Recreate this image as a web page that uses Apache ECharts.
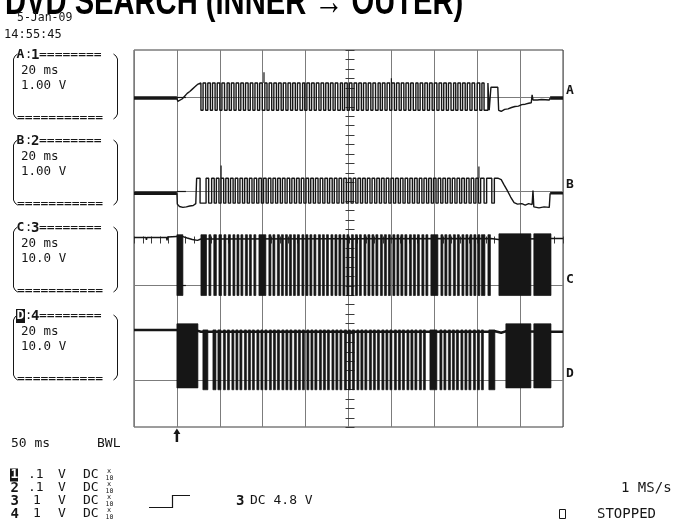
<!DOCTYPE html>
<html>
<head>
<meta charset="utf-8">
<script src="https://cdn.jsdelivr.net/npm/echarts@6/dist/echarts.min.js"></script>
<style>
  html, body { margin: 0; padding: 0; background: #fff; }
  #scope { width: 677px; height: 522px; }
</style>
</head>
<body>
<div id="scope"></div>
<script>
// time in ms (50 ms/div, trigger at t = 0), levels in volts

// --- channel A (1.00 V/div)
const aPre = [[-50, -0.02], [0, -0.02]];
const aRamp = [[0, -0.02], [1, -0.09], [3, -0.1], [6, -0.04], [9, 0.02], [12, 0.08], [15, 0.12], [18, 0.17], [21, 0.22], [24, 0.27], [28, 0.3]];
const aHigh = 0.3;
const aLow = -0.28;
// toggle times, first edge goes low
const aEdges = [28, 30.5, 33.5, 36, 39, 41.5, 44.5, 47, 50, 52.5, 55.5, 58.5, 61, 63.5, 66.5, 69, 72, 74.5, 77.5, 80,
  83, 85.5, 88.5, 91, 94, 96.5, 99.5, 102.5, 105, 107.5, 110.5, 113, 116, 118.5, 121.5, 124, 127, 129.5, 132.5, 135,
  138, 140.5, 143.5, 146.5, 149, 151.5, 154.5, 157, 160, 162.5, 165.5, 168, 171, 173.5, 176.5, 179, 182, 184.5, 187.5, 190.5,
  193, 195.5, 198.5, 201, 204, 206.5, 209.5, 212, 215, 217.5, 220.5, 223, 226, 228.5, 231.5, 234.5, 237, 239.5, 242.5, 245,
  248, 250.5, 253.5, 256, 259, 261.5, 264.5, 267, 270, 272.5, 275.5, 278.5, 281, 283.5, 286.5, 289, 292, 294.5, 297.5, 300,
  303, 305.5, 308.5, 311, 314, 316.5, 319.5, 322.5, 325, 327.5, 330.5, 333, 336, 338.5, 341.5, 344, 347, 350, 353, 355.5,
  358, 362.5, 364];
const aTail = [[366, -0.28], [366, 0.21], [374, 0.21], [375, -0.28], [378, -0.3], [382, -0.26], [386, -0.25], [390, -0.22],
  [394, -0.2], [398, -0.19], [402, -0.16], [406, -0.15], [410, -0.13], [413, -0.12], [414, 0.05], [415, -0.06], [420, -0.06],
  [425, -0.05], [434, -0.06], [435, -0.02]];
const aEnd = [[435, -0.02], [450, -0.02]];
const aSpikes = [[101.5, 0.3, 0.53], [250, 0.3, 0.4]];

// --- channel B (1.00 V/div)
const bPre = [[-50, -0.04], [0, -0.04]];
const bDrop = [[0, -0.04], [0.5, -0.27], [3, -0.32], [7, -0.34], [11, -0.33], [15, -0.31], [19, -0.3], [22, -0.26], [23, -0.26]];
const bHigh = 0.28;
const bLow = -0.25;
// toggle times, first edge goes high
const bEdges = [23, 27, 34, 37, 40.5, 43.5, 46, 49, 51.5, 54.5, 57, 60, 62.5, 65.5, 68, 71, 73.5, 76.5, 79, 82,
  84.5, 87.5, 90, 93, 95.5, 98.5, 101, 104, 106.5, 109.5, 112, 115, 117.5, 120.5, 123, 126, 128.5, 131.5, 134, 137,
  139.5, 142.5, 145, 148, 150.5, 153.5, 156, 159, 161.5, 164.5, 167, 170, 172.5, 175.5, 178, 181, 183.5, 186.5, 189, 192,
  194.5, 197.5, 200, 203, 205.5, 208.5, 211, 214, 216.5, 219.5, 222, 225, 227.5, 230.5, 233, 236, 238.5, 241.5, 244, 247,
  249.5, 252.5, 255, 258, 260.5, 263.5, 266, 269, 271.5, 274.5, 277, 280, 282.5, 285.5, 288, 291, 293.5, 296.5, 299, 302,
  304.5, 307.5, 310, 313, 315.5, 318.5, 321, 324, 326.5, 329.5, 332, 335, 337.5, 340.5, 343, 346, 348.5, 351.5, 354, 358,
  361, 367, 370];
const bTail = [[374, 0.28], [378, 0.25], [381, 0.15], [385, 0.02], [389, -0.12], [393, -0.24], [397, -0.27], [402, -0.26],
  [406, -0.29], [410, -0.26], [414, -0.28], [415, 0.02], [416, -0.33], [422, -0.35], [428, -0.33], [434, -0.34], [435, -0.04]];
const bEnd = [[435, -0.04], [450, -0.04]];
const bSpikes = [[51.5, 0.28, 0.55], [352, 0.28, 0.53]];

// --- channel C (10.0 V/div)
const cBase = [[-50, 10.2], [-45, 10.2], [-44.5, 9.8], [-44, 10.2], [-36, 10.2], [-35.5, 9.7], [-35, 10.2], [-24, 10.2],
  [-23.5, 9.8], [-23, 10.2], [-12, 10.2], [-11.5, 9.6], [-11, 10.3], [0, 10.4], [7, 10.4], [12, 10.1], [18, 9.8], [24, 9.6],
  [28, 9.9], [366, 10.0], [375, 9.8], [436, 10.0], [450, 10.0]];
const cBarTop = 10.8;
const cBarLow = -2.1;
const cBars = [[0, 7], [28, 34.5], [37.3, 39.6], [43, 46], [49, 52], [54.8, 57.1], [60, 62.4], [65.3, 67.6], [70, 72.3],
  [74.6, 76.9], [79.8, 82.2], [84.5, 86.8], [89.7, 92], [95.6, 103.7], [107.2, 109.6], [111.9, 114.2], [117.1, 119.5],
  [121.8, 124.1], [126.5, 128.8], [131.1, 133.5], [135.8, 138.1], [140.4, 142.8], [145.7, 148], [150.3, 152.7], [155, 157.3],
  [159.7, 162], [164.9, 167.3], [169.6, 171.9], [174.3, 176.6], [179.5, 181.8], [184.2, 186.5], [188.8, 191.1], [193.5, 195.8],
  [198.1, 200.5], [203.4, 205.7], [208, 210.4], [212.7, 215], [218, 220.3], [222.6, 225], [227.3, 229.6], [231.9, 234.3],
  [237.2, 239.5], [241.8, 244.2], [246.5, 248.8], [251.7, 254.1], [256.4, 258.7], [261, 263.4], [265.7, 268.1], [271, 273.3],
  [275.6, 278], [280.3, 282.6], [285.5, 287.9], [290.2, 292.5], [296, 304.2], [307.7, 310], [312.3, 314.7], [317, 319.3],
  [322.2, 324.6], [326.9, 329.2], [332.2, 334.5], [336.8, 339.2], [341.5, 343.8], [346.1, 348.5], [350.8, 353.1], [354.9, 359],
  [362.5, 365.4]];
const cBlocks = [[375.3, 412.6, 11.0, -2.1], [416, 436, 11.0, -2.1]];

// --- channel D (10.0 V/div)
const dBase = [[-50, 10.6], [0, 10.6], [24.5, 10.4], [28, 10.2], [363, 10.2], [371, 10.3], [378, 10.0], [383, 10.3], [436, 10.2], [450, 10.2]];
const dBarTop = 10.6;
const dBarLow = -2.1;
const dBars = [[30.3, 36.1], [42, 45.5], [47.8, 51.3], [54.2, 56.5], [58.9, 61.2], [64.1, 66.4], [68.8, 71.1], [73.4, 75.8],
  [78.7, 81], [83.3, 85.7], [88, 90.3], [93.2, 95.6], [97.9, 100.2], [102.6, 104.9], [107.8, 110.1], [112.5, 114.8],
  [117.1, 119.5], [122.4, 124.7], [127, 129.4], [131.7, 134], [136.9, 139.3], [141.6, 143.9], [146.3, 148.6], [151.5, 153.8],
  [156.2, 158.5], [160.8, 163.2], [166.1, 168.4], [170.7, 173.1], [175.4, 177.7], [180.7, 183], [185.3, 187.6], [190, 192.3],
  [195.2, 197.6], [199.9, 202.2], [204.5, 206.9], [209.8, 212.1], [214.4, 216.8], [219.1, 221.4], [224.3, 226.7], [229, 231.3],
  [233.7, 236], [238.9, 241.3], [243.6, 245.9], [248.3, 250.6], [253.5, 255.8], [258.2, 260.5], [262.8, 265.2], [268.1, 270.4],
  [272.7, 275.1], [277.4, 279.7], [282.6, 285], [287.3, 289.6], [294.9, 303], [306.5, 308.9], [311.2, 313.5], [316.4, 318.8],
  [321.1, 323.4], [325.7, 328.1], [331, 333.3], [335.7, 338], [340.3, 342.7], [345.6, 347.9], [350.2, 352.6], [354.9, 357.2],
  [363.6, 370.6]];
const dBlocks = [[0, 24.5, 11.9, -1.7], [383.4, 412.6, 11.9, -1.7], [416, 436, 11.9, -1.7]];

// channel reference markers on the right edge
const refLetters = ['A', 'B', 'C', 'D'];
const refLevels = [3, 1, -1, -3];
const vPerDiv = { A: 1, B: 1, C: 10, D: 10 };

// left panel / footer texts
const titleText = 'DVD SEARCH (INNER \u2192 OUTER)';
const dateText = '5-Jan-09';
const clockText = '14:55:45';
const boxes = [
  { letter: 'A', num: '1', time: '20 ms', volts: '1.00 V' },
  { letter: 'B', num: '2', time: '20 ms', volts: '1.00 V' },
  { letter: 'C', num: '3', time: '20 ms', volts: '10.0 V' },
  { letter: 'D', num: '4', time: '20 ms', volts: '10.0 V' }
];
const probeRows = [['1', '.1', 'V', 'DC'], ['2', '.1', 'V', 'DC'], ['3', '1', 'V', 'DC'], ['4', '1', 'V', 'DC']];

function toDiv(ch, pts) {
  const k = refLevels[refLetters.indexOf(ch)];
  return pts.map(function (p) { return [p[0], p[1] / vPerDiv[ch] + k]; });
}
function stepTrace(edges, firstLevel, otherLevel) {
  const pts = [];
  let lvl = otherLevel;
  edges.forEach(function (t, i) {
    const next = i % 2 === 0 ? firstLevel : otherLevel;
    pts.push([t, lvl], [t, next]);
    lvl = next;
  });
  return pts;
}
function spikeData(ch, list) {
  const k = refLevels[refLetters.indexOf(ch)];
  return list.map(function (s) { return [s[0], s[1] / vPerDiv[ch] + k, s[2] / vPerDiv[ch] + k]; });
}
function barData(ch, list, top, low) {
  const k = refLevels[refLetters.indexOf(ch)];
  return list.map(function (b) {
    const t = b.length > 2 ? b[2] : top;
    const l = b.length > 2 ? b[3] : low;
    return [b[0], b[1], t / vPerDiv[ch] + k, l / vPerDiv[ch] + k];
  });
}

const ink = '#161616';
function lineSeries(data, width) {
  return {
    type: 'line', data: data, showSymbol: false, symbol: 'none', silent: true,
    lineStyle: { color: ink, width: width }, z: 3
  };
}
function barSeries(data) {
  return {
    type: 'custom', data: data, silent: true, z: 4,
    renderItem: function (params, api) {
      const p0 = api.coord([api.value(0), api.value(2)]);
      const p1 = api.coord([api.value(1), api.value(3)]);
      return {
        type: 'rect',
        shape: { x: p0[0], y: p0[1], width: Math.max(p1[0] - p0[0], 1.4), height: p1[1] - p0[1] },
        style: { fill: ink, stroke: ink, lineWidth: 0.7 }
      };
    }
  };
}
function spikeSeries(data) {
  return {
    type: 'custom', data: data, silent: true, z: 4,
    renderItem: function (params, api) {
      const p0 = api.coord([api.value(0), api.value(1)]);
      const p1 = api.coord([api.value(0), api.value(2)]);
      return {
        type: 'line',
        shape: { x1: p0[0], y1: p0[1], x2: p1[0], y2: p1[1] },
        style: { stroke: ink, lineWidth: 1.2 }
      };
    }
  };
}

const chart = echarts.init(document.getElementById('scope'));
const gridColor = '#7c7c7c';
const mono = '"DejaVu Sans Mono", monospace';

chart.setOption({
  animation: false,
  backgroundColor: '#fff',
  grid: { left: 134, top: 50, width: 429, height: 377, show: true, borderColor: '#3a3a3a', borderWidth: 1 },
  xAxis: {
    type: 'value', min: -50, max: 450, interval: 50,
    axisLine: { show: false }, axisTick: { show: false }, axisLabel: { show: false },
    splitLine: { show: true, lineStyle: { color: gridColor, width: 1 } }
  },
  yAxis: {
    type: 'value', position: 'right', min: -4, max: 4, interval: 1,
    axisLine: { show: false },
    axisTick: { show: true, inside: false, length: 9, customValues: refLevels, lineStyle: { color: ink, width: 1.2 } },
    axisLabel: {
      show: true, customValues: refLevels, margin: 3, verticalAlign: 'bottom',
      fontFamily: mono, fontWeight: 'bold', fontSize: 13, color: ink,
      formatter: function (v) { const i = refLevels.indexOf(v); return i >= 0 ? refLetters[i] : ''; }
    },
    splitLine: { show: true, lineStyle: { color: gridColor, width: 1 } }
  },
  series: [
    lineSeries(toDiv('A', aPre), 3.5),
    lineSeries(toDiv('A', aRamp.concat(stepTrace(aEdges, aLow, aHigh), aTail)), 1.4),
    lineSeries(toDiv('A', aEnd), 3.5),
    spikeSeries(spikeData('A', aSpikes)),
    lineSeries(toDiv('B', bPre), 3.5),
    lineSeries(toDiv('B', bDrop.concat(stepTrace(bEdges, bHigh, bLow), bTail)), 1.4),
    lineSeries(toDiv('B', bEnd), 2.5),
    spikeSeries(spikeData('B', bSpikes)),
    lineSeries(toDiv('C', cBase), 1.5),
    barSeries(barData('C', cBars.concat(cBlocks), cBarTop, cBarLow)),
    lineSeries(toDiv('D', dBase), 2.5),
    barSeries(barData('D', dBars.concat(dBlocks), dBarTop, dBarLow))
  ]
});

// ---------- decorations (text panels, crosshair ticks, trigger arrow)
const g = [];
function text(x, y, s, font, extra, z) {
  const el = { type: 'text', x: x, y: y, silent: true, z: z || 10,
    style: Object.assign({ text: s, font: font, fill: ink, textAlign: 'left', textVerticalAlign: 'middle' }, extra || {}) };
  g.push(el);
  return el;
}
function seg(x1, y1, x2, y2, w, color, z) {
  g.push({ type: 'line', silent: true, z: z || 10, shape: { x1: x1, y1: y1, x2: x2, y2: y2 }, style: { stroke: color || ink, lineWidth: w || 1 } });
}
function poly(points, w) {
  g.push({ type: 'polyline', silent: true, z: 10, shape: { points: points }, style: { stroke: ink, fill: null, lineWidth: w || 1 } });
}

const title = text(5, 4, titleText, 'bold 38px "Liberation Sans", Arial, sans-serif', { fill: '#000' });
title.scaleX = 0.767;
text(17, 18, dateText, '11.5px ' + mono);
text(4, 35, clockText, '12px ' + mono);

// channel setting boxes
const boxTops = [55, 141, 228, 316];
boxes.forEach(function (b, i) {
  const top = boxTops[i], bottom = top + 63, L = 13.5, R = 117.5;
  poly([[L + 4, top - 1], [L + 1.5, top + 1], [L, top + 4], [L, bottom - 4], [L + 1.5, bottom - 1], [L + 4, bottom + 1]]);
  poly([[R - 4, top - 1], [R - 1.5, top + 1], [R, top + 4], [R, bottom - 4], [R - 1.5, bottom - 1], [R - 4, bottom + 1]]);
  if (b.letter === 'D') {
    g.push({ type: 'rect', silent: true, z: 10, shape: { x: 16, y: top - 7, width: 9, height: 14 }, style: { fill: ink } });
    text(16.5, top, b.letter, 'bold 13px ' + mono, { fill: '#fff' });
  } else {
    text(16.5, top, b.letter, 'bold 13px ' + mono);
  }
  text(25, top, ':', '12px ' + mono);
  text(31, top, b.num, 'bold 14px ' + mono);
  text(39, top, '========', '13px ' + mono);
  text(17, bottom, '===========', '13px ' + mono);
  text(21, top + 16, b.time, '12.5px ' + mono);
  text(21, top + 31, b.volts, '12.5px ' + mono);
});

// footer
const foot = '13px ' + mono;
text(11, 444, '50 ms', foot);
text(97, 444, 'BWL', foot);
const rowY = [475, 488, 501, 514];
probeRows.forEach(function (r, i) {
  const y = rowY[i];
  if (i === 0) {
    g.push({ type: 'rect', silent: true, z: 10, shape: { x: 10, y: y - 6.5, width: 8, height: 13 }, style: { fill: ink } });
    text(10.5, y, r[0], 'bold 13px ' + mono, { fill: '#fff' });
  } else {
    text(10.5, y, r[0], 'bold 14px ' + mono);
  }
  text(r[1].length > 1 ? 28 : 33, y, r[1], foot);
  text(58, y, r[2], foot);
  text(83, y, r[3], foot);
  text(107, y - 3.5, 'x', '7px ' + mono);
  text(105.5, y + 3, '10', '6.5px ' + mono);
});
// trigger slope symbol and level
poly([[149, 507.5], [172.5, 507.5], [172.5, 495.5], [190, 495.5]], 1.2);
text(236, 501, '3', 'bold 14px ' + mono);
text(250, 501, 'DC 4.8 V', foot);
text(621, 488, '1 MS/s', '14px ' + mono);
g.push({ type: 'rect', silent: true, z: 10, shape: { x: 559.5, y: 509.5, width: 6, height: 9 }, style: { stroke: ink, fill: null, lineWidth: 1 } });
text(597, 514, 'STOPPED', '14px ' + mono);

// centre cross-hair ticks, placed through the axis scales (under the traces)
const cx = Math.round(chart.convertToPixel({ xAxisIndex: 0 }, 200)) + 0.5;
const cy = Math.round(chart.convertToPixel({ yAxisIndex: 0 }, 0)) + 0.5;
for (let v = -20; v <= 20; v++) {
  const y = Math.round(chart.convertToPixel({ yAxisIndex: 0 }, v / 5)) + 0.5;
  seg(cx - 4, y, cx + 5, y, 1, '#3a3a3a', 1);
}
for (let t = -50; t <= 450; t += 10) {
  const x = Math.round(chart.convertToPixel({ xAxisIndex: 0 }, t)) + 0.5;
  seg(x, cy - 3, x, cy + 4, 1, '#3a3a3a', 1);
}
// trigger point arrow below the graticule
const tx = chart.convertToPixel({ xAxisIndex: 0 }, 0);
const gb = chart.convertToPixel({ yAxisIndex: 0 }, -4);
g.push({ type: 'polygon', silent: true, z: 10, shape: { points: [[tx - 3.5, gb + 7], [tx, gb + 1.5], [tx + 3.5, gb + 7]] }, style: { fill: ink } });
seg(tx, gb + 6, tx, gb + 15, 2.5);

chart.setOption({ graphic: { elements: g } });
</script>
</body>
</html>
